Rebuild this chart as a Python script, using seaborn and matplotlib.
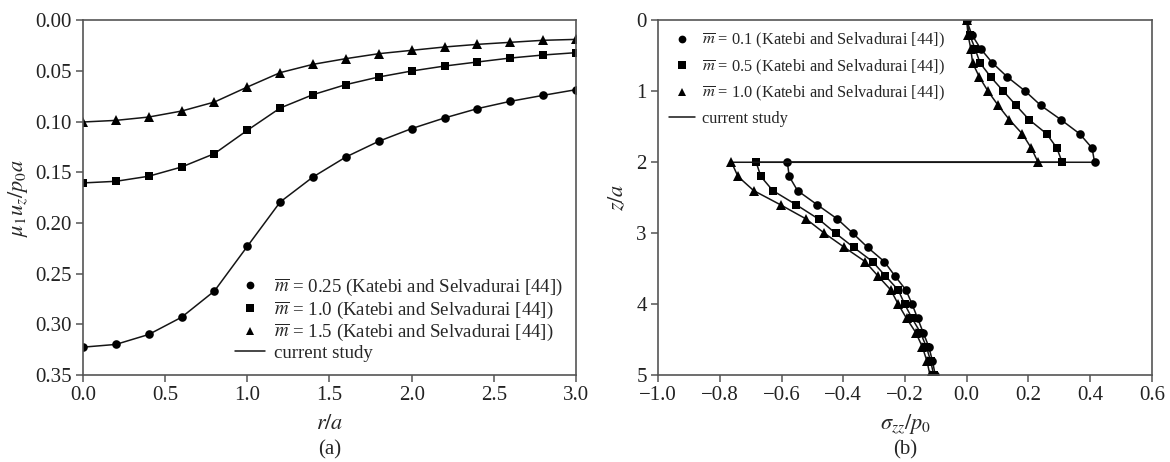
import matplotlib
matplotlib.use("Agg")
import matplotlib.pyplot as plt
from matplotlib.lines import Line2D
import numpy as np
import pandas as pd
import seaborn as sns

# ---- (a) surface displacement vs radial distance ----
r_over_a = [0.0, 0.2, 0.4, 0.6, 0.8, 1.0, 1.2, 1.4, 1.6, 1.8, 2.0, 2.2, 2.4, 2.6, 2.8, 3.0]
uz_m025 = [0.3224, 0.3197, 0.3099, 0.2929, 0.2670, 0.2230, 0.1792, 0.1545, 0.1348, 0.1193,
           0.1068, 0.0963, 0.0871, 0.0799, 0.0740, 0.0684]
uz_m10 = [0.1604, 0.1588, 0.1538, 0.1447, 0.1315, 0.1085, 0.0865, 0.0733, 0.0634, 0.0559,
          0.0500, 0.0451, 0.0411, 0.0372, 0.0342, 0.0319]
uz_m15 = [0.1003, 0.0987, 0.0954, 0.0895, 0.0806, 0.0658, 0.0516, 0.0434, 0.0378, 0.0329,
          0.0296, 0.0263, 0.0237, 0.0217, 0.0197, 0.0188]
labels_a = [r"$\overline{m}$ = 0.25 (Katebi and Selvadurai [44])",
            r"$\overline{m}$ = 1.0 (Katebi and Selvadurai [44])",
            r"$\overline{m}$ = 1.5 (Katebi and Selvadurai [44])"]

# ---- (b) vertical stress vs depth (jump across the layer interface at z/a = 2) ----
z_upper = [0.0, 0.2, 0.4, 0.6, 0.8, 1.0, 1.2, 1.4, 1.6, 1.8, 2.0]
z_lower = [2.0, 2.2, 2.4, 2.6, 2.8, 3.0, 3.2, 3.4, 3.6, 3.8, 4.0, 4.2, 4.4, 4.6, 4.8, 5.0]
szz_m01_upper = [0.0, 0.016, 0.045, 0.083, 0.132, 0.190, 0.240, 0.305, 0.366, 0.406, 0.414]
szz_m05_upper = [0.0, 0.009, 0.027, 0.043, 0.078, 0.119, 0.160, 0.202, 0.259, 0.292, 0.309]
szz_m10_upper = [0.0, 0.004, 0.013, 0.019, 0.041, 0.069, 0.102, 0.138, 0.180, 0.209, 0.231]
szz_m01_lower = [-0.581, -0.575, -0.548, -0.484, -0.419, -0.369, -0.321, -0.267, -0.233, -0.197,
                 -0.177, -0.159, -0.141, -0.123, -0.111, -0.102]
szz_m05_lower = [-0.682, -0.667, -0.628, -0.552, -0.480, -0.425, -0.366, -0.305, -0.264, -0.222,
                 -0.201, -0.177, -0.150, -0.131, -0.117, -0.107]
szz_m10_lower = [-0.762, -0.741, -0.690, -0.603, -0.520, -0.461, -0.396, -0.329, -0.288, -0.246,
                 -0.222, -0.195, -0.165, -0.144, -0.129, -0.119]
labels_b = [r"$\overline{m}$ = 0.1 (Katebi and Selvadurai [44])",
            r"$\overline{m}$ = 0.5 (Katebi and Selvadurai [44])",
            r"$\overline{m}$ = 1.0 (Katebi and Selvadurai [44])"]

markers = ["o", "s", "^"]
msizes = [6.2, 5.8, 6.8]
LINE = "#151515"

sns.set_theme(style="ticks")
plt.rcParams["font.family"] = ["Liberation Serif", "DejaVu Serif"]
plt.rcParams["mathtext.fontset"] = "stix"
plt.rcParams["axes.edgecolor"] = "#555555"
plt.rcParams["axes.linewidth"] = 1.2
plt.rcParams["xtick.color"] = "#555555"
plt.rcParams["ytick.color"] = "#555555"
plt.rcParams["xtick.labelcolor"] = "#222222"
plt.rcParams["ytick.labelcolor"] = "#222222"

fig = plt.figure(figsize=(11.7, 4.62), dpi=100)
ax_a = fig.add_axes([0.0709, 0.188, 0.4214, 0.768])
ax_b = fig.add_axes([0.5624, 0.188, 0.4222, 0.768])


def marker_handles():
    hs = [Line2D([], [], ls="none", marker=mk, color="black", markersize=ms * 0.9,
                 markeredgewidth=0) for mk, ms in zip(markers, msizes)]
    hs.append(Line2D([], [], color=LINE, lw=1.1))
    return hs


# panel (a)
df_a = pd.concat([
    pd.DataFrame({"r": r_over_a, "u": vals, "set": lab})
    for vals, lab in zip([uz_m025, uz_m10, uz_m15], labels_a)
], ignore_index=True)
for (lab, grp), mk, ms in zip(df_a.groupby("set", sort=False), markers, msizes):
    sns.lineplot(data=grp, x="r", y="u", ax=ax_a, color=LINE, lw=1.1,
                 marker=mk, markersize=ms, markeredgewidth=0, markerfacecolor="black",
                 estimator=None, sort=False, legend=False)
ax_a.set_xlim(0, 3.0)
ax_a.set_ylim(0.35, 0.0)
ax_a.set_xticks(np.arange(0, 3.01, 0.5))
ax_a.set_yticks(np.arange(0, 0.351, 0.05))
ax_a.xaxis.set_major_formatter(matplotlib.ticker.FormatStrFormatter("%.1f"))
ax_a.yaxis.set_major_formatter(matplotlib.ticker.FormatStrFormatter("%.2f"))
ax_a.set_xlabel(r"$r/a$", fontsize=16, labelpad=7)
ax_a.set_ylabel(r"$\mu_1 u_z/p_0 a$", fontsize=16, labelpad=4)
ax_a.legend(marker_handles(), labels_a + ["current study"], loc="lower right",
            bbox_to_anchor=(1.0, 0.0), frameon=False, fontsize=13.6,
            handlelength=1.6, handletextpad=0.45, labelspacing=0.08, borderaxespad=0.3)

# panel (b)
frames_b = []
for up, lo, lab in zip([szz_m01_upper, szz_m05_upper, szz_m10_upper],
                       [szz_m01_lower, szz_m05_lower, szz_m10_lower], labels_b):
    frames_b.append(pd.DataFrame({"s": up + lo, "z": z_upper + z_lower, "set": lab}))
df_b = pd.concat(frames_b, ignore_index=True)
for (lab, grp), mk, ms in zip(df_b.groupby("set", sort=False), markers, msizes):
    sns.lineplot(data=grp, x="s", y="z", ax=ax_b, color=LINE, lw=1.1,
                 marker=mk, markersize=ms, markeredgewidth=0, markerfacecolor="black",
                 estimator=None, sort=False, legend=False)
ax_b.set_xlim(-1.0, 0.6)
ax_b.set_ylim(5, 0)
ax_b.set_xticks(np.arange(-1.0, 0.61, 0.2))
ax_b.set_yticks(range(0, 6))
ax_b.xaxis.set_major_formatter(matplotlib.ticker.FuncFormatter(
    lambda v, p: f"{v:.1f}".replace("-", "\u2212") if abs(v) > 1e-9 else "0.0"))
ax_b.set_xlabel(r"$\sigma_{zz}/p_0$", fontsize=16, labelpad=5)
ax_b.set_ylabel(r"$z/a$", fontsize=16, labelpad=6)
ax_b.legend(marker_handles(), labels_b + ["current study"], loc="upper left",
            bbox_to_anchor=(0.0, 1.0), frameon=False, fontsize=11.8,
            handlelength=1.6, handletextpad=0.45, labelspacing=0.45, borderaxespad=0.25)

for ax in (ax_a, ax_b):
    ax.tick_params(axis="both", which="major", direction="out", length=5, width=1.1,
                   labelsize=15, pad=3)
    for sp in ax.spines.values():
        sp.set_visible(True)

fig.text(0.0709 + 0.4214 / 2, 0.026, "(a)", ha="center", va="center", fontsize=15)
fig.text(0.5624 + 0.4222 / 2, 0.026, "(b)", ha="center", va="center", fontsize=15)

fig.savefig("out.png", dpi=100, facecolor="white")
